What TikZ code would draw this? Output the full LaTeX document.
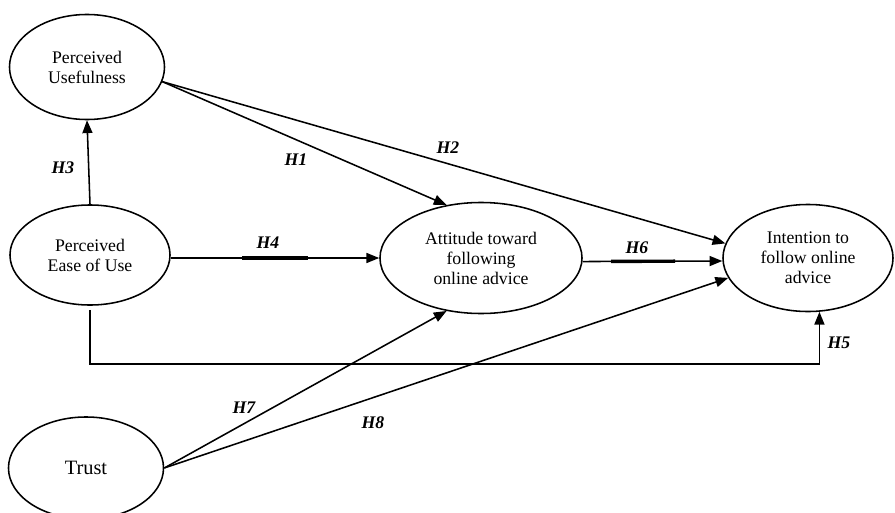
\documentclass[tikz,border=0pt]{standalone}
\usepackage{fontspec}
\setmainfont{Liberation Serif}
\usetikzlibrary{arrows.meta,shapes.geometric,calc}
\tikzset{
 construct/.style={draw,ellipse,line width=1.1pt,inner sep=0pt,align=center,
             font=\fontsize{12.6}{14.2}\selectfont},
 arrow/.style={-{Triangle[length=3.2mm,width=2.5mm]},line width=1.1pt},
 hyp/.style={font=\fontsize{12.6}{14.2}\selectfont\bfseries\itshape},
 bar/.style={line width=2.4pt}
}

\begin{document}
\begin{tikzpicture}[x=0.025cm,y=-0.025cm]
\useasboundingbox (0,0) rectangle (895,513);
\node[construct,minimum width=3.875cm,minimum height=2.625cm] (pu) at (87,67) {Perceived\\Usefulness};
\node[construct,minimum width=4cm,minimum height=2.5cm] (peu) at (90,255) {Perceived\\Ease of Use};
\node[construct,minimum width=5.05cm,minimum height=2.775cm] (att) at (481,258) {Attitude toward\\following\\online advice};
\node[construct,minimum width=4.25cm,minimum height=2.675cm] (int) at (808,258) {Intention to\\follow online\\advice};
\node[construct,minimum width=3.875cm,minimum height=2.55cm,font=\fontsize{14.5}{16}\selectfont] (trust) at (86,468) {Trust};
% hypotheses
\draw[arrow] (peu.north) -- (pu.south);
\draw[arrow] (pu.-11) -- (att.123);
\draw[arrow] (pu.-11) -- (int.170);
\draw[arrow] (att.west -| peu.east) -- (att.west);
\draw[arrow,shorten <=1mm] (peu.south) -- ++(0,58) -| (int.-78);
\draw[arrow] (att.-2) -- (int.182);
\draw[arrow] (trust.east) -- (att.237);
\draw[arrow] (trust.east) -- (int.194);
\draw[bar] ($(att.west -| peu.east)!0.343!(att.west)$) -- ($(att.west -| peu.east)!0.657!(att.west)$);
\draw[bar] ($(att.-2)!0.204!(int.182)$) -- ($(att.-2)!0.662!(int.182)$);
% labels
\node[hyp] (h1) at (296,160) {H1};
\node[hyp] (h2) at (448,148) {H2};
\node[hyp] (h3) at (63,168) {H3};
\node[hyp] (h4) at (268,243) {H4};
\node[hyp] (h5) at (839,343) {H5};
\node[hyp] (h6) at (637,248) {H6};
\node[hyp] (h7) at (244,408) {H7};
\node[hyp] (h8) at (373,423) {H8};
\end{tikzpicture}
\end{document}
